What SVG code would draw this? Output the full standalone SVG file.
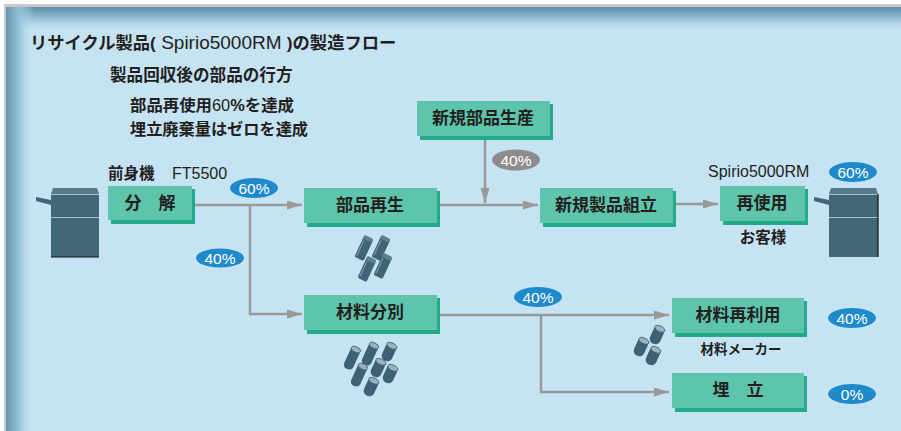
<svg xmlns="http://www.w3.org/2000/svg" width="901" height="431" viewBox="0 0 901 431">
  <defs>
    <linearGradient id="topShade" x1="0" y1="0" x2="0" y2="1">
      <stop offset="0" stop-color="#5d8ea8"/>
      <stop offset="0.35" stop-color="#86b4cb"/>
      <stop offset="1" stop-color="#c6e3f4" stop-opacity="0"/>
    </linearGradient>
    <linearGradient id="leftShade" x1="0" y1="0" x2="1" y2="0">
      <stop offset="0" stop-color="#6597b0"/>
      <stop offset="0.4" stop-color="#8dbcd2"/>
      <stop offset="1" stop-color="#c6e3f4" stop-opacity="0"/>
    </linearGradient>
    <marker id="arrow" markerUnits="userSpaceOnUse" markerWidth="16" markerHeight="10" refX="15" refY="4.5" orient="auto">
      <path d="M0,0 L15,4.5 L0,9 Z" fill="#999999"/>
    </marker>
    <g id="bar">
      <rect x="-5" y="-12" width="10" height="24" rx="2" fill="#3f6477"/>
      <rect x="-5" y="-12" width="10" height="4" rx="2" fill="#5f8293"/>
      <line x1="-3.3" y1="-7" x2="-3.3" y2="10" stroke="#7e9eae" stroke-width="1"/>
    </g>
    <g id="cylLong">
      <rect x="-5" y="-12" width="10" height="24" rx="4.5" fill="#3e6275"/>
      <ellipse cx="0" cy="-9.3" rx="5" ry="2.7" fill="#9bb3bf" stroke="#3e6275" stroke-width="0.8"/>
    </g>
    <g id="cylShort">
      <rect x="-5.5" y="-9.5" width="11" height="19" rx="5" fill="#3e6275"/>
      <ellipse cx="0" cy="-6.8" rx="5.5" ry="2.8" fill="#9bb3bf" stroke="#3e6275" stroke-width="0.8"/>
    </g>
  </defs>

  <style>
    .panel { fill: #c6e3f4; }
    .face { fill: #5ec4ac; }
    .edge { fill: #22aa8a; }
    .lbl { font-family: "Liberation Sans", "Noto Sans CJK JP", sans-serif; font-weight: bold; font-size: 17px; fill: #231f20; text-anchor: middle; }
    .jp { font-family: "Liberation Sans", "Noto Sans CJK JP", sans-serif; font-weight: bold; fill: #231f20; }
    .reg { font-weight: normal; }
    .conn { fill: none; stroke: #999999; stroke-width: 2.5; }
    .badge { fill: #1f8acb; }
    .badgeGray { fill: #8c8c8c; }
    .btxt { font-family: "Liberation Sans", "Noto Sans CJK JP", sans-serif; font-size: 15.5px; fill: #ffffff; text-anchor: middle; }
    .pr { fill: #436678; }
    .prTop { fill: #577a8b; }
    .prLine { stroke: #a9c1cc; stroke-width: 1; }
  </style>

  <!-- panel background -->
  <rect x="4" y="4" width="897" height="427" fill="#c9c9c9"/>
  <rect x="6" y="7" width="895" height="424" class="panel"/>
  <rect x="6" y="7" width="895" height="26" fill="url(#topShade)"/>
  <rect x="6" y="7" width="28" height="424" fill="url(#leftShade)"/>

  <!-- headings -->
  <text class="jp" x="30" y="49" font-size="17.3">リサイクル製品(<tspan class="reg" font-size="19"> Spirio5000RM </tspan>)の製造フロー</text>
  <text class="jp" x="110" y="81" font-size="16.6">製品回収後の部品の行方</text>
  <text class="jp" x="130" y="111" font-size="16.4">部品再使用<tspan class="reg">60</tspan>%を達成</text>
  <text class="jp" x="130" y="135" font-size="16.2">埋立廃棄量はゼロを達成</text>

  <text class="jp" x="108" y="179" font-size="15.5">前身機<tspan class="reg" x="172" font-size="16">FT5500</tspan></text>
  <text class="jp reg" x="708" y="177" font-size="16" font-weight="normal">Spirio5000RM</text>
  <text class="jp" x="763" y="243" font-size="15.5" text-anchor="middle">お客様</text>
  <text class="jp" x="741" y="354" font-size="13.5" text-anchor="middle">材料メーカー</text>

  <!-- connectors -->
  <g id="connectors">
    <path class="conn" d="M195,205 H302" marker-end="url(#arrow)"/>
    <path class="conn" d="M250,205 V314 H302" marker-end="url(#arrow)"/>
    <path class="conn" d="M440,205 H538" marker-end="url(#arrow)"/>
    <path class="conn" d="M485,139 V203" marker-end="url(#arrow)"/>
    <path class="conn" d="M676,204 H718" marker-end="url(#arrow)"/>
    <path class="conn" d="M440,315 H669" marker-end="url(#arrow)"/>
    <path class="conn" d="M541,315 V392 H669" marker-end="url(#arrow)"/>
  </g>

  <!-- process nodes -->
  <g id="node-bunkai">
    <rect class="edge" x="111" y="189" width="84" height="35"/>
    <rect class="face" x="108" y="186" width="84" height="34"/>
    <text class="lbl" x="150" y="209">分　解</text>
  </g>
  <g id="node-buhin-saisei">
    <rect class="edge" x="307" y="191" width="133" height="36"/>
    <rect class="face" x="304" y="188" width="133" height="35"/>
    <text class="lbl" x="370" y="211">部品再生</text>
  </g>
  <g id="node-shinki-buhin">
    <rect class="edge" x="420" y="104" width="133" height="36"/>
    <rect class="face" x="417" y="101" width="133" height="35"/>
    <text class="lbl" x="483" y="124">新規部品生産</text>
  </g>
  <g id="node-kumitate">
    <rect class="edge" x="543" y="191" width="133" height="36"/>
    <rect class="face" x="540" y="188" width="133" height="35"/>
    <text class="lbl" x="606" y="211">新規製品組立</text>
  </g>
  <g id="node-saishiyou">
    <rect class="edge" x="723" y="189" width="85" height="36"/>
    <rect class="face" x="720" y="186" width="85" height="35"/>
    <text class="lbl" x="762" y="209">再使用</text>
  </g>
  <g id="node-bunbetsu">
    <rect class="edge" x="307" y="298" width="133" height="36"/>
    <rect class="face" x="304" y="295" width="133" height="35"/>
    <text class="lbl" x="370" y="318">材料分別</text>
  </g>
  <g id="node-sairiyou">
    <rect class="edge" x="675" y="301" width="132" height="36"/>
    <rect class="face" x="672" y="298" width="132" height="35"/>
    <text class="lbl" x="738" y="321">材料再利用</text>
  </g>
  <g id="node-umetate">
    <rect class="edge" x="675" y="376" width="132" height="36"/>
    <rect class="face" x="672" y="373" width="132" height="35"/>
    <text class="lbl" x="738" y="396">埋　立</text>
  </g>

  <!-- percentage badges -->
  <g id="badges">
    <ellipse class="badge" cx="254" cy="188" rx="24" ry="10"/>
    <text class="btxt" x="254" y="193.5">60%</text>
    <ellipse class="badge" cx="220" cy="258" rx="24" ry="9.5"/>
    <text class="btxt" x="220" y="263.5">40%</text>
    <ellipse class="badgeGray" cx="516" cy="160" rx="24" ry="10.5"/>
    <text class="btxt" x="516" y="165.5">40%</text>
    <ellipse class="badge" cx="853" cy="172" rx="24" ry="10"/>
    <text class="btxt" x="853" y="177.5">60%</text>
    <ellipse class="badge" cx="538" cy="297" rx="24" ry="10"/>
    <text class="btxt" x="538" y="302.5">40%</text>
    <ellipse class="badge" cx="852" cy="318" rx="24" ry="10"/>
    <text class="btxt" x="852" y="323.5">40%</text>
    <ellipse class="badge" cx="852" cy="394" rx="24" ry="10"/>
    <text class="btxt" x="852" y="399.5">0%</text>
  </g>

  <!-- copier, left -->
  <g id="copier-left">
    <path class="pr" d="M36,197 L51,200 L51,205 L36,201 Z"/>
    <path class="prTop" d="M51,194 L53,188 L97,188 L99,194 Z"/>
    <rect class="pr" x="51" y="194" width="48" height="63"/>
    <line class="prLine" x1="51" y1="194.5" x2="99" y2="194.5"/>
    <line class="prLine" x1="51" y1="217.5" x2="99" y2="217.5"/>
    <line x1="51" y1="257" x2="99" y2="257" stroke="#111" stroke-width="1.2"/>
  </g>

  <!-- copier, right -->
  <g id="copier-right">
    <path class="pr" d="M814,197 L829,200 L829,205 L814,201 Z"/>
    <path class="prTop" d="M829,194 L831,188 L876,188 L878,194 Z"/>
    <rect class="pr" x="829" y="194" width="49" height="63"/>
    <line class="prLine" x1="829" y1="194.5" x2="878" y2="194.5"/>
    <line class="prLine" x1="829" y1="217.5" x2="878" y2="217.5"/>
    <line x1="878" y1="194" x2="878" y2="257" stroke="#111" stroke-width="1.2"/>
  </g>

  <!-- reused parts -->
  <g id="parts-reuse">
    <use href="#bar" transform="translate(364,248) rotate(25)"/>
    <use href="#bar" transform="translate(381,248) rotate(25)"/>
    <use href="#bar" transform="translate(367,269) rotate(25)"/>
    <use href="#bar" transform="translate(383,266) rotate(25)"/>
  </g>

  <!-- sorted materials -->
  <g id="materials-sorted">
    <use href="#cylLong" transform="translate(352,358) rotate(25)"/>
    <use href="#cylLong" transform="translate(370,354) rotate(25)"/>
    <use href="#cylShort" transform="translate(389,352) rotate(25)"/>
    <use href="#cylLong" transform="translate(359,375) rotate(25)"/>
    <use href="#cylShort" transform="translate(378,368) rotate(25)"/>
    <use href="#cylShort" transform="translate(390,374) rotate(25)"/>
    <use href="#cylShort" transform="translate(371,387) rotate(25)"/>
  </g>

  <!-- recycled materials -->
  <g id="materials-recycled">
    <use href="#cylShort" transform="translate(657,335) rotate(25)"/>
    <use href="#cylShort" transform="translate(641,347) rotate(25)"/>
    <use href="#cylShort" transform="translate(653,356) rotate(25)"/>
  </g>
</svg>
